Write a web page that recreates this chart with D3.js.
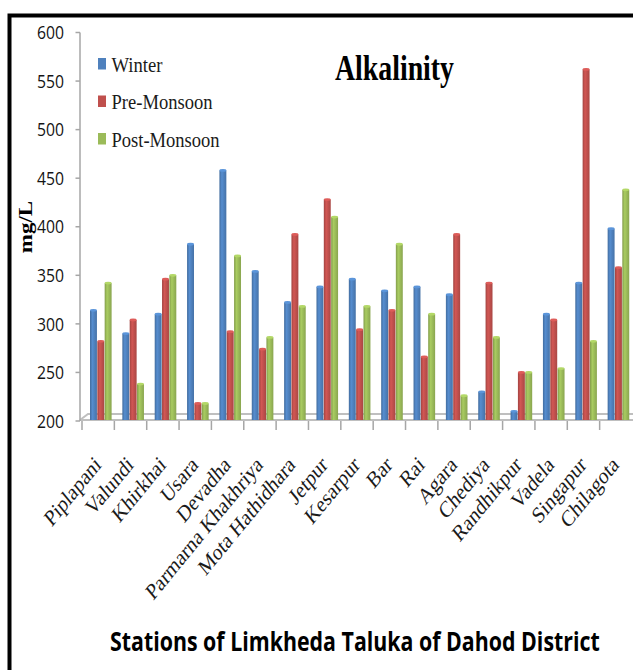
<!DOCTYPE html>
<html>
<head>
<meta charset="utf-8">
<script src="https://cdn.jsdelivr.net/npm/d3@7/dist/d3.min.js"></script>
<style>
  html, body { margin: 0; padding: 0; background: #fff; }
  svg { display: block; }
</style>
</head>
<body>
<svg id="chart" width="633" height="670"></svg>
<script>
// Alkalinity (mg/L) at sampling stations of Limkheda Taluka, three seasons
const stations = ["Piplapani", "Valundi", "Khirkhai", "Usara", "Devadha", "Parmarna Khakhriya",
  "Mota Hathidhara", "Jetpur", "Kesarpur", "Bar", "Rai", "Agara", "Chediya", "Randhikpur",
  "Vadela", "Singapur", "Chilagota"];
const seasons = ["Winter", "Pre-Monsoon", "Post-Monsoon"];
const winter      = [314, 290, 310, 382, 458, 354, 322, 338, 346, 334, 338, 330, 230, 210, 310, 342, 398];
const preMonsoon  = [282, 304, 346, 218, 292, 274, 392, 428, 294, 314, 266, 392, 342, 250, 304, 562, 358];
const postMonsoon = [342, 238, 350, 218, 370, 286, 318, 410, 318, 382, 310, 226, 286, 250, 254, 282, 438];
const yTicks = [200, 250, 300, 350, 400, 450, 500, 550, 600];
const seriesColors = ["#4F81BD", "#C0504D", "#9BBB59"];

const svg = d3.select("#chart");
const serif = "'Liberation Serif', 'DejaVu Serif', serif";
const sans = "'Open Sans', 'Liberation Sans', sans-serif";
const squeeze = 0.8;   // narrow text proportions used throughout

// frame (top and left edges)
svg.append("path").attr("d", "M9.5,700 V15.5 H640")
  .attr("fill", "none").attr("stroke", "#000").attr("stroke-width", 4);

const x = d3.scaleBand().domain(stations).range([82, 632]).padding(0);
const xs = d3.scaleBand().domain(seasons).range([8, 30]).padding(0);
const y = d3.scaleLinear().domain([200, 600]).range([421, 32.5]);

const values = [winter, preMonsoon, postMonsoon];
const rows = stations.map((s, i) => ({ station: s, vals: seasons.map((k, j) => ({ season: k, v: values[j][i], j })) }));

// cylinder-style shading gradients
const defs = svg.append("defs");
seriesColors.forEach((c, j) => {
  const g = defs.append("linearGradient").attr("id", "grad" + j)
    .attr("x1", "0%").attr("x2", "100%").attr("y1", "0%").attr("y2", "0%");
  const base = d3.color(c);
  g.append("stop").attr("offset", "0%").attr("stop-color", base.darker(0.5));
  g.append("stop").attr("offset", "35%").attr("stop-color", base.brighter(0.25));
  g.append("stop").attr("offset", "100%").attr("stop-color", base.darker(0.35));
});

// floor of the plot
const floorY = y(200);
svg.append("path")
  .attr("d", `M80,${floorY - 1} L88,${floorY - 7} H633 M80,${floorY - 1} H633`)
  .attr("fill", "none").attr("stroke", "#bfbfbf").attr("stroke-width", 2);

// value axis
const yAxis = svg.append("g");
yAxis.append("line").attr("x1", 80).attr("x2", 80).attr("y1", y(600)).attr("y2", floorY)
  .attr("stroke", "#a6a6a6").attr("stroke-width", 1.5);
yAxis.selectAll("line.tick").data(yTicks).join("line").attr("class", "tick")
  .attr("x1", 75.5).attr("x2", 80).attr("y1", d => y(d)).attr("y2", d => y(d))
  .attr("stroke", "#a6a6a6").attr("stroke-width", 1.5);
yAxis.selectAll("text").data(yTicks).join("text")
  .attr("x", 64).attr("y", d => y(d)).attr("dy", "0.36em")
  .attr("text-anchor", "end").attr("font-family", sans).attr("font-size", 18.5)
  .attr("textLength", 27).attr("lengthAdjust", "spacingAndGlyphs")
  .attr("fill", "#141414").text(d => d);

// category ticks
svg.append("g").selectAll("line").data(d3.range(stations.length))
  .join("line")
  .attr("x1", i => x(stations[i])).attr("x2", i => x(stations[i]))
  .attr("y1", floorY).attr("y2", floorY + 9)
  .attr("stroke", "#a6a6a6").attr("stroke-width", 1.5);

// bars
const groups = svg.append("g").selectAll("g").data(rows).join("g")
  .attr("transform", d => `translate(${x(d.station)},0)`);
const bw = xs.bandwidth();
groups.selectAll("rect").data(d => d.vals).join("rect")
  .attr("x", d => xs(d.season)).attr("width", bw - 0.4)
  .attr("y", d => y(d.v)).attr("height", d => floorY - 1 - y(d.v))
  .attr("fill", d => `url(#grad${d.j})`);
groups.selectAll("ellipse").data(d => d.vals).join("ellipse")
  .attr("cx", d => xs(d.season) + bw / 2 - 0.2).attr("cy", d => y(d.v))
  .attr("rx", bw / 2 - 0.2).attr("ry", 1.4)
  .attr("fill", d => d3.color(seriesColors[d.j]).brighter(0.4));

// station labels
svg.append("g").selectAll("text").data(stations).join("text")
  .attr("transform", d => `translate(${x(d) + x.bandwidth() / 2 + 4},${floorY + 45}) scale(0.82,1) rotate(-45)`)
  .attr("text-anchor", "end").attr("font-family", serif).attr("font-size", 23)
  .attr("fill", "#1a1a1a").text(d => d);

// legend
const legend = svg.append("g").selectAll("g").data(seasons).join("g")
  .attr("transform", (d, i) => `translate(98,${58 + i * 37.5})`);
legend.append("rect").attr("width", 8).attr("height", 11.5)
  .attr("fill", (d, i) => seriesColors[i]);
const legendWidths = [51, 101, 108];
legend.append("text").attr("x", 13.5).attr("y", 13.5)
  .attr("font-family", serif).attr("font-size", 21)
  .attr("textLength", (d, i) => legendWidths[i]).attr("lengthAdjust", "spacingAndGlyphs")
  .attr("fill", "#1a1a1a").text(d => d);

// chart title
svg.append("text").attr("x", 335).attr("y", 80)
  .attr("font-family", serif).attr("font-weight", "bold").attr("font-size", 35)
  .attr("textLength", 119).attr("lengthAdjust", "spacingAndGlyphs")
  .attr("fill", "#000").text("Alkalinity");

// value axis title
svg.append("text")
  .attr("transform", `translate(32,227) scale(${squeeze},1) rotate(-90)`)
  .attr("text-anchor", "middle").attr("font-family", serif).attr("font-weight", "bold")
  .attr("font-size", 23).attr("fill", "#000").text("mg/L");

// category axis title, narrowed to span 110..600
const xTitle = svg.append("text")
  .attr("font-family", sans).attr("font-weight", "bold").attr("font-size", 26)
  .attr("fill", "#000").text("Stations of Limkheda Taluka of Dahod District");
const natural = xTitle.node().getComputedTextLength();
xTitle.attr("transform", `translate(110,651) scale(${490 / natural},1)`);
</script>
</body>
</html>
